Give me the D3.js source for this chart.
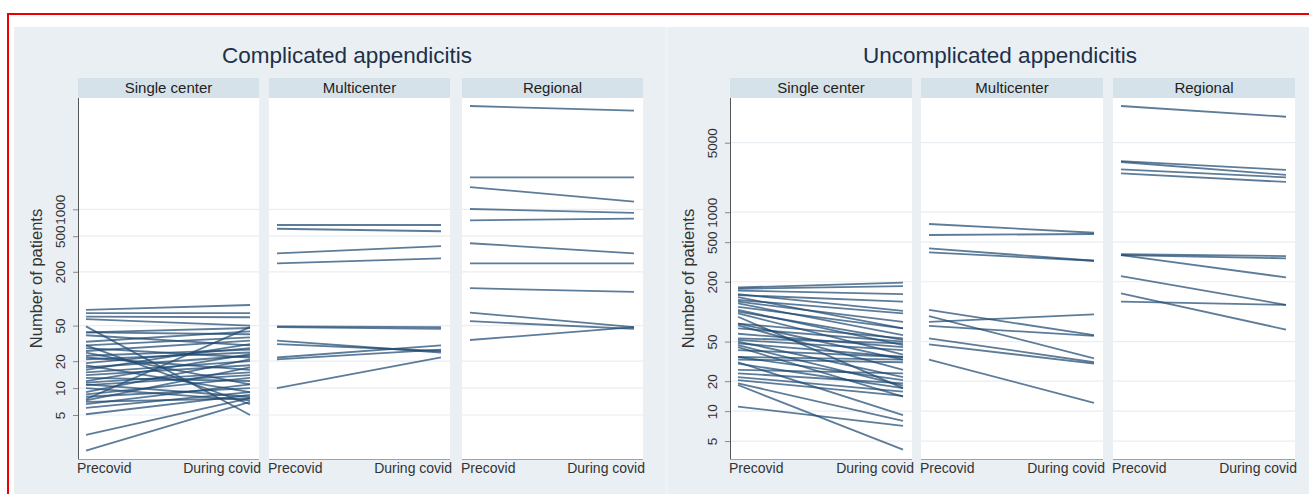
<!DOCTYPE html>
<html>
<head>
<meta charset="utf-8">
<script src="https://cdn.jsdelivr.net/npm/d3@7"></script>
<style>
  html, body { margin: 0; padding: 0; background: #fff; }
  svg { display: block; font-family: "Liberation Sans", Arial, sans-serif; }
</style>
</head>
<body>
<svg id="chart" width="1309" height="494"></svg>
<script>
const periods = ["Precovid", "During covid"]
const facetNames = ["Single center", "Multicenter", "Regional"]

// complicated appendicitis, number of patients pre / during covid
const compSinglePre  = [75, 69, 63, 59, 49, 42, 39, 33, 30, 28, 26, 25, 23, 22, 21, 19, 18, 17, 15, 14, 13, 12, 11.5, 11, 10.8, 10, 9, 8.5, 8, 7.5, 7.3, 7, 6.6, 6, 5.1, 3, 2, 42, 16, 30]
const compSinglePost = [85, 69, 62, 50, 5, 47, 30, 43, 37, 22, 34, 11, 27, 16, 25, 28, 9, 23, 20, 18, 12, 24, 15, 8, 14, 7.3, 21, 13, 10, 48, 17, 7.7, 11, 9, 8.4, 7.7, 7, 40, 31, 6.6]
const compMultiPre   = [667, 606, 322, 249, 49, 48, 34, 31, 22, 21, 10]
const compMultiPost  = [667, 568, 388, 283, 48, 46, 25, 26, 30, 27, 22]
const compRegPre     = [14300, 2280, 1775, 1008, 753, 417, 249, 131, 70, 56, 34.5]
const compRegPost    = [12700, 2280, 1216, 910, 785, 322, 249, 119, 48, 46, 48]

// uncomplicated appendicitis
const uncSinglePre  = [175, 170, 163, 147, 150, 131, 126, 121, 112, 104, 96, 89, 76, 76, 73, 68, 54, 52, 50, 48, 44, 41, 35, 33, 31, 26, 24, 22, 20.5, 18.3, 11.1, 35, 60, 100, 46, 140, 30, 19]
const uncSinglePost = [196, 181, 150, 126, 102, 96, 79, 58, 68, 46, 37, 17, 54, 33, 26, 50, 48, 41, 22, 35, 14, 35, 20.5, 31, 9.1, 24, 19, 15.7, 14.2, 4.1, 7.1, 33, 44, 52, 18, 68, 17, 8]
const uncMultiPre   = [761, 590, 434, 395, 104, 90, 79, 72, 54, 47, 33]
const uncMultiPost  = [622, 604, 325, 325, 58, 34, 94, 57, 31, 30, 12.1]
const uncRegPre     = [11700, 3270, 3200, 2700, 2460, 378, 371, 371, 228, 153, 126]
const uncRegPost    = [9120, 2660, 2370, 2240, 2015, 362, 344, 221, 117, 66, 117]

const compTicks = [5, 10, 20, 50, 200, 500, 1000]
const uncTicks  = [5, 10, 20, 50, 200, 500, 1000, 5000]

const panels = [
  {
    title: "Complicated appendicitis", cx: 347,
    left: [78, 269, 462], w: 181,
    domain: [1.61, 17580], ticks: compTicks,
    series: [[compSinglePre, compSinglePost], [compMultiPre, compMultiPost], [compRegPre, compRegPost]]
  },
  {
    title: "Uncomplicated appendicitis", cx: 1000,
    left: [730, 921, 1113], w: 182,
    domain: [3.3, 14080], ticks: uncTicks,
    series: [[uncSinglePre, uncSinglePost], [uncMultiPre, uncMultiPost], [uncRegPre, uncRegPost]]
  }
]

const svg = d3.select("#chart")
const plotTop = 98, plotBottom = 459

// backdrop
svg.append("rect").attr("x", 14).attr("y", 27).attr("width", 1295).attr("height", 467).attr("fill", "#e9eff3")
svg.append("rect").attr("x", 665).attr("y", 27).attr("width", 3).attr("height", 467).attr("fill", "#eef3f6")
svg.append("path").attr("d", "M8,494V14H1309").attr("fill", "none").attr("stroke", "#ee0000").attr("stroke-width", 2)

panels.forEach(p => {
  const y = d3.scaleLog().domain(p.domain).range([plotBottom, plotTop])

  svg.append("text")
    .attr("x", p.cx).attr("y", 63)
    .attr("text-anchor", "middle")
    .attr("font-size", 22.5).attr("fill", "#1f3049")
    .text(p.title)

  p.left.forEach((x0, i) => {
    const g = svg.append("g")
    const x = d3.scalePoint().domain(periods).range([x0 + 8, x0 + p.w - 9])

    g.append("rect").attr("x", x0).attr("y", 78).attr("width", p.w).attr("height", 20).attr("fill", "#d6e2ea")
    g.append("text").attr("x", x0 + p.w / 2).attr("y", 93)
      .attr("text-anchor", "middle").attr("font-size", 15).attr("fill", "#222")
      .text(facetNames[i])

    g.append("rect").attr("x", x0).attr("y", plotTop).attr("width", p.w).attr("height", plotBottom - plotTop).attr("fill", "#fff")

    g.selectAll("line.grid").data(p.ticks).join("line")
      .attr("class", "grid")
      .attr("x1", x0).attr("x2", x0 + p.w)
      .attr("y1", d => y(d)).attr("y2", d => y(d))
      .attr("stroke", "#e8eef2").attr("stroke-width", 1.2)

    const [pre, post] = p.series[i]
    g.selectAll("line.pair").data(d3.range(pre.length)).join("line")
      .attr("class", "pair")
      .attr("x1", x("Precovid")).attr("x2", x("During covid"))
      .attr("y1", k => y(pre[k])).attr("y2", k => y(post[k]))
      .attr("stroke", "#1f4a72").attr("stroke-opacity", 0.72).attr("stroke-width", 1.8)

    g.append("line").attr("x1", x0).attr("x2", x0 + p.w).attr("y1", plotBottom + 0.5).attr("y2", plotBottom + 0.5)
      .attr("stroke", "#9aa3ab").attr("stroke-width", 1)

    g.append("text").attr("x", x0 - 1).attr("y", 473)
      .attr("font-size", 14).attr("fill", "#333").attr("text-anchor", "start")
      .text(periods[0])
    g.append("text").attr("x", x0 + p.w + 2).attr("y", 473)
      .attr("font-size", 14).attr("fill", "#333").attr("text-anchor", "end")
      .text(periods[1])
  })

  // y axis on the first facet
  const axis = d3.axisLeft(y).tickValues(p.ticks).tickFormat(d3.format("d")).tickSize(5)
  const ga = svg.append("g").attr("transform", `translate(${p.left[0]},0)`).call(axis)
  ga.select(".domain").attr("stroke", "#555").attr("d", `M0.5,${plotTop}V${plotBottom}`)
  ga.selectAll(".tick line").attr("stroke", "#888")
  ga.selectAll(".tick text")
    .attr("font-size", 13.5).attr("fill", "#333").attr("font-family", "Liberation Sans, Arial, sans-serif")
    .attr("transform", "rotate(-90)")
    .attr("x", 0).attr("y", -13).attr("dy", 0)
    .attr("text-anchor", "middle")

  svg.append("text")
    .attr("transform", `translate(${p.left[0] - 36},${(plotTop + plotBottom) / 2}) rotate(-90)`)
    .attr("text-anchor", "middle").attr("font-size", 16.5).attr("fill", "#333")
    .text("Number of patients")
})
</script>
</body>
</html>
